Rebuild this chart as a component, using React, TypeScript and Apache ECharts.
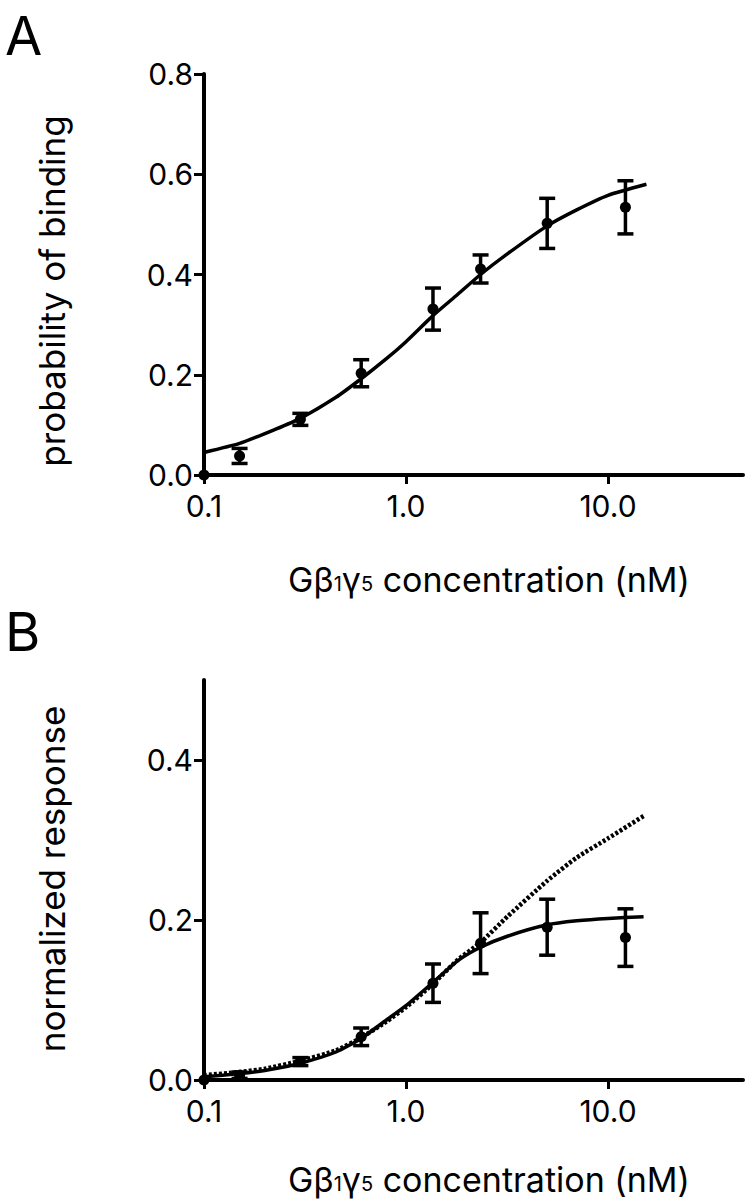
import React, { useEffect, useRef } from "react";
import * as echarts from "echarts";

const FONT = "Inter, 'Liberation Sans', Arial, sans-serif";

// Measured data points (concentration in nM)
const concentrations = [0.15, 0.3, 0.6, 1.36, 2.34, 5.0, 12.2];
const bindingMean = [0.038, 0.111, 0.203, 0.331, 0.411, 0.502, 0.534];
const bindingErr = [0.015, 0.012, 0.027, 0.042, 0.028, 0.05, 0.053];
const responseMean = [0.006, 0.023, 0.054, 0.121, 0.171, 0.191, 0.178];
const responseErr = [0.004, 0.005, 0.011, 0.024, 0.038, 0.035, 0.036];
const zeroConc = [0.1];
const zeroValue = [0];

// Fitted curves
const bindingFitX = [0.1, 0.15, 0.225, 0.3, 0.45, 0.6, 0.8, 1.0, 1.36, 1.8, 2.34, 3.2, 5.0, 7.0, 10.0, 15.5];
const bindingFit = [0.045, 0.063, 0.091, 0.113, 0.155, 0.192, 0.232, 0.266, 0.318, 0.36, 0.4, 0.442, 0.497, 0.529, 0.558, 0.58];

const responseFitX = [0.1, 0.15, 0.2, 0.3, 0.45, 0.6, 0.8, 1.0, 1.36, 1.8, 2.34, 3.2, 5.0, 7.0, 10.0, 15.0];
const responseFit = [0.004, 0.008, 0.012, 0.021, 0.035, 0.052, 0.075, 0.093, 0.122, 0.149, 0.166, 0.18, 0.194, 0.199, 0.202, 0.204];
const responseFitFull = [0.006, 0.01, 0.014, 0.024, 0.037, 0.053, 0.073, 0.091, 0.12, 0.15, 0.172, 0.205, 0.249, 0.278, 0.302, 0.33];

// Axis ticks
const xTicks = [0.1, 1, 10];
const yTicksA = [0, 0.2, 0.4, 0.6, 0.8];
const yTicksB = [0, 0.2, 0.4];

const xTitleRich = "{m|Gβ}{s|1}{m|γ}{s|5}{m| concentration (nM)}";

function pairs(xs: number[], ys: number[]) {
  return xs.map((x, i) => [x, ys[i]]);
}

function triples(xs: number[], ys: number[], es: number[]) {
  return xs.map((x, i) => [x, ys[i], es[i]]);
}

const errorRender = (params: any, api: any) => {
  const x = api.value(0);
  const y = api.value(1);
  const e = api.value(2);
  const top = api.coord([x, y + e]);
  const bot = api.coord([x, y - e]);
  const hw = 8;
  const style = { stroke: "#000", lineWidth: 3.5, fill: null };
  return {
    type: "group",
    children: [
      { type: "line", shape: { x1: top[0], y1: top[1], x2: bot[0], y2: bot[1] }, style },
      { type: "line", shape: { x1: top[0] - hw, y1: top[1], x2: top[0] + hw, y2: top[1] }, style },
      { type: "line", shape: { x1: bot[0] - hw, y1: bot[1], x2: bot[0] + hw, y2: bot[1] }, style },
    ],
  };
};

function makeXAxis(gridIndex: number) {
  return {
    type: "log",
    logBase: 10,
    gridIndex,
    min: 0.1,
    max: 46.6,
    axisLine: { show: true, onZero: false, lineStyle: { color: "#000", width: 4 } },
    axisTick: { show: true, length: 9, customValues: xTicks, lineStyle: { color: "#000", width: 3 } },
    minorTick: { show: false },
    splitLine: { show: false },
    axisLabel: {
      customValues: xTicks,
      formatter: (v: number) => Number(v).toFixed(1),
      fontSize: 30,
      fontFamily: FONT,
      color: "#000",
      margin: 16,
    },
  };
}

function makeYAxis(gridIndex: number, max: number, ticks: number[]) {
  return {
    type: "value",
    gridIndex,
    min: 0,
    max,
    axisLine: { show: true, onZero: false, lineStyle: { color: "#000", width: 4 } },
    axisTick: { show: true, length: 10, customValues: ticks, lineStyle: { color: "#000", width: 3 } },
    splitLine: { show: false },
    axisLabel: {
      customValues: ticks,
      formatter: (v: number) => Number(v).toFixed(1),
      fontSize: 30,
      fontFamily: FONT,
      color: "#000",
      margin: 11,
    },
  };
}

function textEl(text: string, x: number, y: number, size: number, rotation = 0, align = "left") {
  return {
    type: "text",
    x,
    y,
    rotation,
    style: {
      text,
      fill: "#000",
      fontSize: size,
      fontFamily: FONT,
      textAlign: align,
      textVerticalAlign: "middle",
      lineHeight: size,
    },
  };
}

function xTitle(y: number) {
  return {
    type: "text",
    x: 489,
    y,
    style: {
      text: xTitleRich,
      fill: "#000",
      textAlign: "center",
      textVerticalAlign: "middle",
      rich: {
        m: { fontSize: 34, fontFamily: FONT, fill: "#000", verticalAlign: "bottom", lineHeight: 36 },
        s: { fontSize: 20, fontFamily: FONT, fill: "#000", verticalAlign: "bottom", lineHeight: 24, padding: [0, 0, 2, 0] },
      },
    },
  };
}

export default function App() {
  const ref = useRef<HTMLDivElement>(null);

  useEffect(() => {
    if (!ref.current) return;
    const chart = echarts.init(ref.current, undefined, { renderer: "svg" });
    const option: any = {
      animation: false,
      backgroundColor: "#fff",
      grid: [
        { left: 204, top: 74, width: 539, height: 401, containLabel: false },
        { left: 204, top: 680, width: 539, height: 400, containLabel: false },
      ],
      xAxis: [makeXAxis(0), makeXAxis(1)],
      yAxis: [makeYAxis(0, 0.8, yTicksA), makeYAxis(1, 0.5, yTicksB)],
      series: [
        {
          name: "binding fit",
          type: "line",
          xAxisIndex: 0,
          yAxisIndex: 0,
          data: pairs(bindingFitX, bindingFit),
          showSymbol: false,
          smooth: 0.2,
          lineStyle: { color: "#000", width: 3.5 },
          z: 2,
        },
        {
          name: "binding error",
          type: "custom",
          xAxisIndex: 0,
          yAxisIndex: 0,
          data: triples(concentrations, bindingMean, bindingErr),
          renderItem: errorRender,
          clip: false,
          z: 3,
        },
        {
          name: "binding",
          type: "scatter",
          xAxisIndex: 0,
          yAxisIndex: 0,
          data: pairs(concentrations, bindingMean).concat(pairs(zeroConc, zeroValue)),
          symbol: "circle",
          symbolSize: 11,
          itemStyle: { color: "#000", opacity: 1 },
          clip: false,
          z: 4,
        },
        {
          name: "response fit (full)",
          type: "line",
          xAxisIndex: 1,
          yAxisIndex: 1,
          data: pairs(responseFitX, responseFitFull),
          showSymbol: false,
          smooth: 0.2,
          lineStyle: { color: "#000", width: 4.5, type: [3, 2] },
          z: 1,
        },
        {
          name: "response fit",
          type: "line",
          xAxisIndex: 1,
          yAxisIndex: 1,
          data: pairs(responseFitX, responseFit),
          showSymbol: false,
          smooth: 0.2,
          lineStyle: { color: "#000", width: 3.5 },
          z: 2,
        },
        {
          name: "response error",
          type: "custom",
          xAxisIndex: 1,
          yAxisIndex: 1,
          data: triples(concentrations, responseMean, responseErr),
          renderItem: errorRender,
          clip: false,
          z: 3,
        },
        {
          name: "response",
          type: "scatter",
          xAxisIndex: 1,
          yAxisIndex: 1,
          data: pairs(concentrations, responseMean).concat(pairs(zeroConc, zeroValue)),
          symbol: "circle",
          symbolSize: 11,
          itemStyle: { color: "#000", opacity: 1 },
          clip: false,
          z: 4,
        },
      ],
      graphic: [
        textEl("A", 5, 35, 54),
        textEl("B", 5, 631, 54),
        textEl("probability of binding", 52, 291, 35, Math.PI / 2, "center"),
        textEl("normalized response", 52, 879, 35, Math.PI / 2, "center"),
        xTitle(578),
        xTitle(1178),
      ],
    };
    chart.setOption(option);
    return () => chart.dispose();
  }, []);

  return (
    <div
      ref={ref}
      style={{ position: "absolute", left: 0, top: 0, width: 752, height: 1200, background: "#fff" }}
    />
  );
}
